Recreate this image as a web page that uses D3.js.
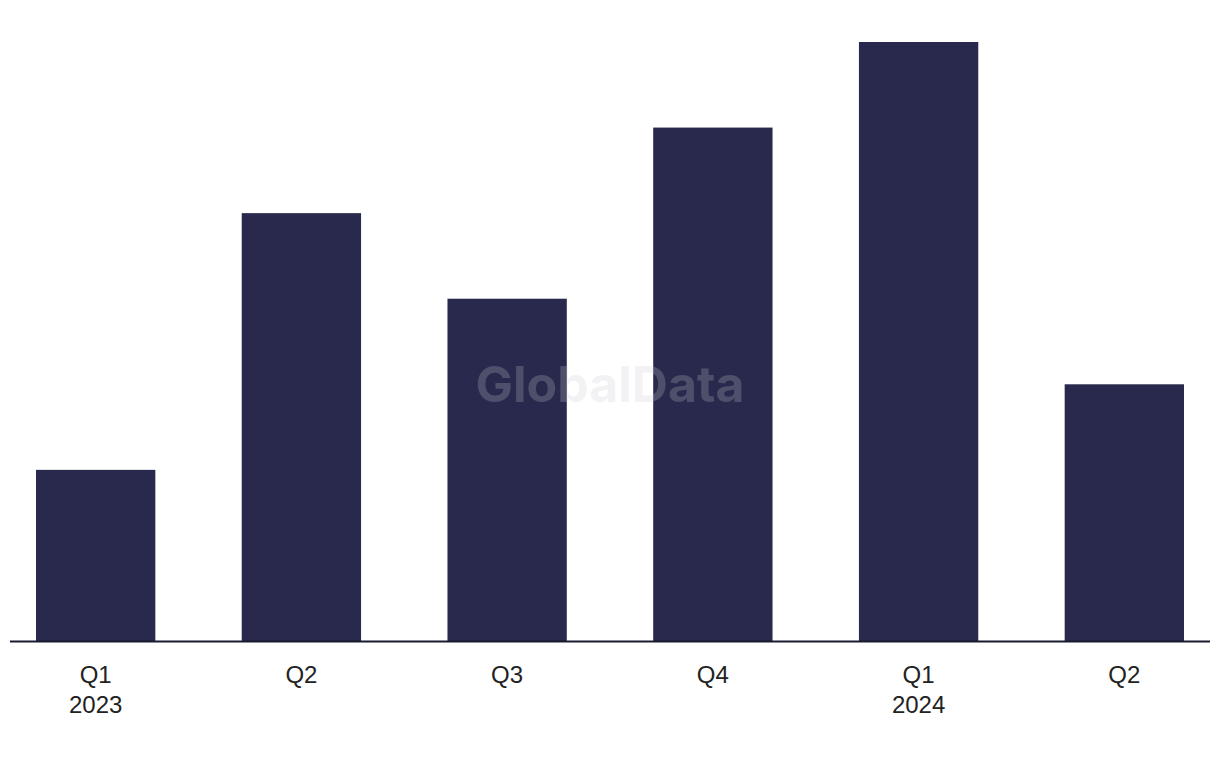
<!DOCTYPE html>
<html><head><meta charset="utf-8">
<script src="https://cdn.jsdelivr.net/npm/d3@7"></script>
<style>body{margin:0;background:#fff}</style>
</head><body>
<script>
const quarters = ["Q1", "Q2", "Q3", "Q4", "Q1", "Q2"];
const years = ["2023", "", "", "", "2024", ""];
const values = [2, 5, 4, 6, 7, 3];
const keys = quarters.map((q, i) => i);

const W = 1220, H = 768;
const svg = d3.select("body").append("svg").attr("width", W).attr("height", H);

const x = d3.scaleBand().domain(keys).range([36, 1184]).paddingInner(0.42).paddingOuter(0);
const y = d3.scaleLinear().domain([0, 7]).range([641, 42]);

svg.append("g").selectAll("rect").data(values).join("rect")
  .attr("x", (d, i) => x(i)).attr("width", x.bandwidth())
  .attr("y", d => y(d)).attr("height", d => y(0) - y(d))
  .attr("fill", "#28294c");

svg.append("text").attr("x", 610).attr("y", 402).attr("text-anchor", "middle")
  .attr("font-family", "Inter, 'Liberation Sans', sans-serif").attr("font-weight", 700)
  .attr("font-size", 50).attr("fill", "#c8c8d2").attr("fill-opacity", 0.24)
  .text("GlobalData");

svg.append("line").attr("x1", 10).attr("x2", 1210).attr("y1", 641.5).attr("y2", 641.5)
  .attr("stroke", "#1a1a2e").attr("stroke-width", 2);

const lab = svg.append("g").attr("font-family", "'Liberation Sans', Arial, sans-serif")
  .attr("font-size", 24).attr("fill", "#222").attr("text-anchor", "middle");
keys.forEach(i => {
  const cx = x(i) + x.bandwidth() / 2;
  lab.append("text").attr("x", cx).attr("y", 683).text(quarters[i]);
  if (years[i]) lab.append("text").attr("x", cx).attr("y", 713).text(years[i]);
});
</script>
</body></html>
